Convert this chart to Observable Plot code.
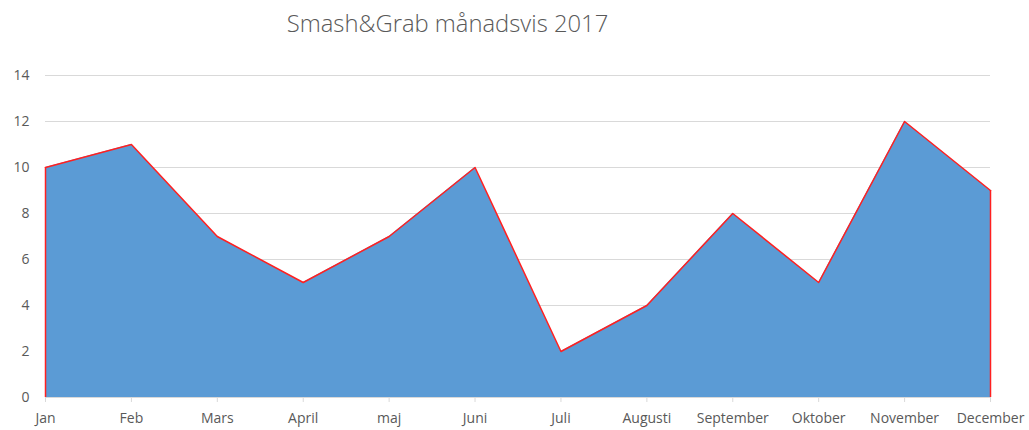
<!DOCTYPE html>
<html><head><meta charset="utf-8">
<script src="https://cdn.jsdelivr.net/npm/d3@7"></script>
<script src="https://cdn.jsdelivr.net/npm/@observablehq/plot@0.6"></script>
<style>
body{margin:0;background:#fff;font-family:"Open Sans",Lato,sans-serif;}
#wrap{position:relative;width:1029px;height:430px;overflow:hidden;}
#title{position:absolute;left:0;top:7px;width:895px;text-align:center;font-size:23.8px;color:#595959;font-family:"Open Sans",Lato,sans-serif;font-weight:300;}
#chart{position:absolute;left:0;top:50px;}
</style></head><body>
<div id="wrap">
<div id="title">Smash&amp;Grab månadsvis 2017</div>
<div id="chart"></div>
</div>
<script>
const months = ["Jan","Feb","Mars","April","maj","Juni","Juli","Augusti","September","Oktober","November","December"];
const values = [10, 11, 7, 5, 7, 10, 2, 4, 8, 5, 12, 9];
const yTicks = [0, 2, 4, 6, 8, 10, 12, 14];
const data = months.map((m, i) => ({month: m, value: values[i]}));
const ends = [data[0], data[data.length - 1]];

const chart = Plot.plot({
  width: 1029, height: 380,
  marginTop: 25, marginBottom: 33, marginLeft: 45, marginRight: 39,
  style: {fontFamily: "'Open Sans', Lato, sans-serif", fontSize: "14px", color: "#595959", background: "#fff"},
  x: {type: "point", domain: months, padding: 0, round: false, label: null},
  y: {domain: [0, 14], ticks: yTicks, label: null},
  marks: [
    Plot.gridY(yTicks, {stroke: "#d9d9d9", strokeOpacity: 1}),
    Plot.areaY(data, {x: "month", y: "value", fill: "#5b9bd5"}),
    Plot.ruleY([0], {stroke: "#d9d9d9"}),
    Plot.line(data, {x: "month", y: "value", stroke: "#ff2020", strokeWidth: 1.5}),
    Plot.ruleX(ends, {x: "month", y1: 0, y2: "value", stroke: "#ff2020", strokeWidth: 1.5}),
    Plot.axisY(yTicks, {tickSize: 0, tickPadding: 16, fill: "#595959"}),
    Plot.axisX(months, {tickSize: 5, tickPadding: 11, stroke: "#d9d9d9", fill: "#595959"})
  ]
});
document.getElementById("chart").appendChild(chart);
</script>
</body></html>
